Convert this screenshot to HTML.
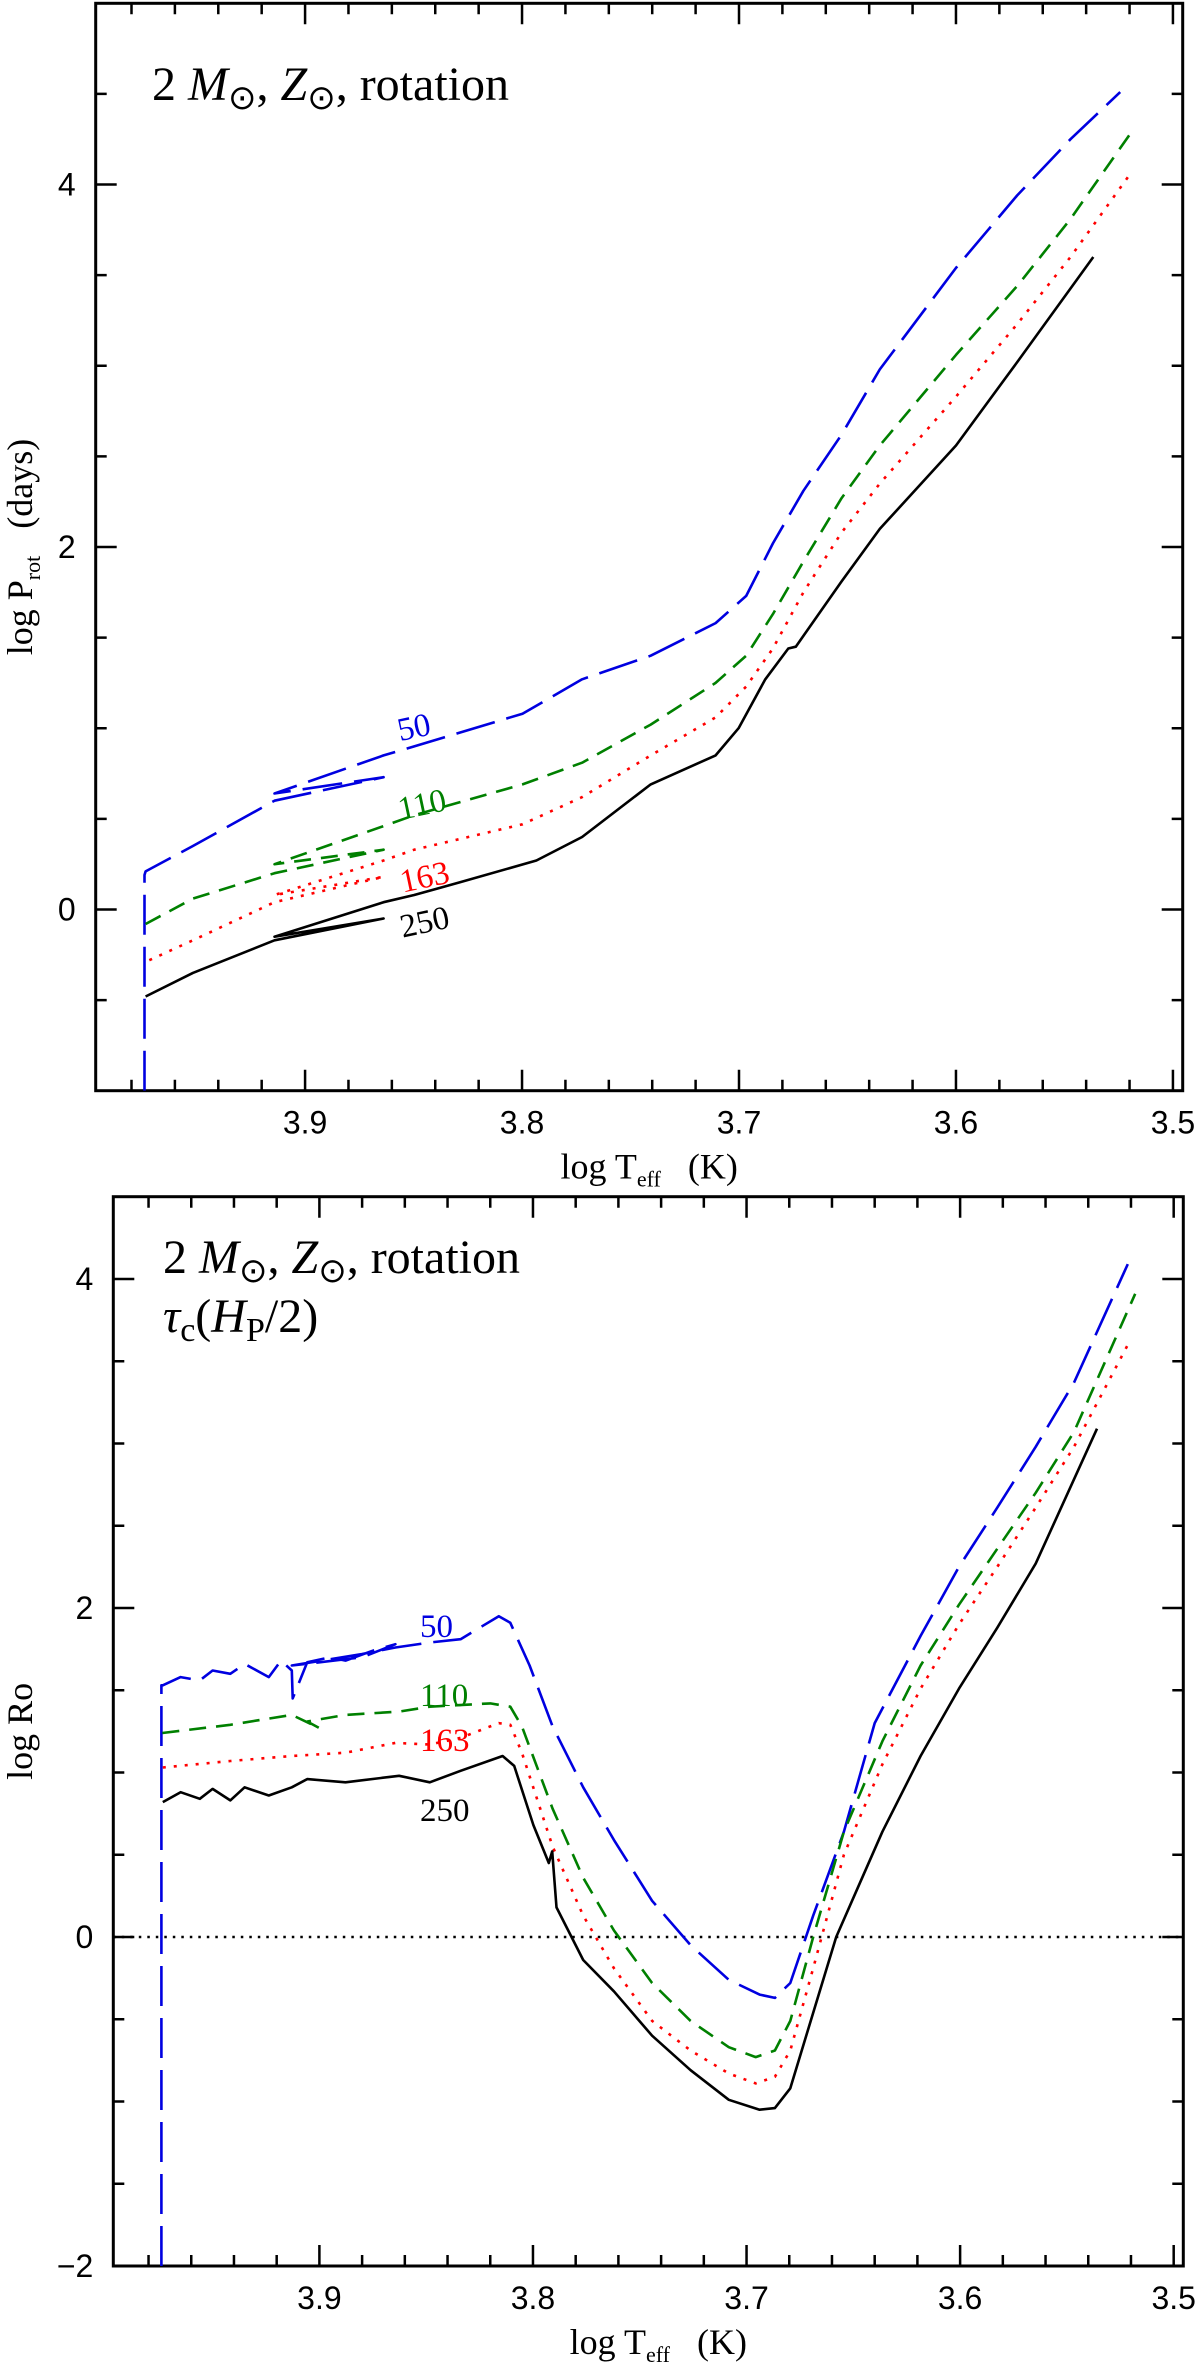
<!DOCTYPE html>
<html><head><meta charset="utf-8"><style>
html,body{margin:0;padding:0;background:#fff;}
svg{display:block;}
.tick{font-family:"Liberation Sans",sans-serif;font-size:32px;fill:#000;}
.ttl{font-family:"Liberation Serif",serif;font-size:36px;fill:#000;}
.ser{font-family:"Liberation Serif",serif;font-size:33px;}
.ann{font-family:"Liberation Serif",serif;font-size:48px;fill:#000;}
</style></head><body>
<svg id="fig" width="1200" height="2366" viewBox="0 0 1200 2366" xmlns="http://www.w3.org/2000/svg">
<g id="top"></g>
<g id="bot"></g>
<text class="ann" x="152" y="100">2 <tspan font-style="italic">M</tspan><tspan font-size="34" dy="9">⊙</tspan><tspan dy="-9">, </tspan><tspan font-style="italic">Z</tspan><tspan font-size="34" dy="9">⊙</tspan><tspan dy="-9">, rotation</tspan></text>
<text class="ann" x="163" y="1273">2 <tspan font-style="italic">M</tspan><tspan font-size="34" dy="9">⊙</tspan><tspan dy="-9">, </tspan><tspan font-style="italic">Z</tspan><tspan font-size="34" dy="9">⊙</tspan><tspan dy="-9">, rotation</tspan></text>
<text class="ann" x="163" y="1332"><tspan font-style="italic">τ</tspan><tspan font-size="34" dy="9">c</tspan><tspan dy="-9">(</tspan><tspan font-style="italic">H</tspan><tspan font-size="34" dy="9">P</tspan><tspan dy="-9">/2)</tspan></text>
<text class="ser" x="398" y="738" fill="#0000e0" transform="rotate(-12 414 730)">50</text>
<text class="ser" x="398" y="815" fill="#008000" transform="rotate(-12 423 805)">110</text>
<text class="ser" x="400" y="888" fill="#ff0000" transform="rotate(-12 423 878)">163</text>
<text class="ser" x="400" y="933" fill="#000" transform="rotate(-12 423 923)">250</text>
<text class="ser" x="420" y="1637" fill="#0000e0">50</text>
<text class="ser" x="420" y="1706" fill="#008000">110</text>
<text class="ser" x="420" y="1751" fill="#ff0000">163</text>
<text class="ser" x="420" y="1821" fill="#000">250</text>
</svg>
<script>
// ---- top panel data (log P_rot) ----
const topBlueX=[3.974,3.974,3.9735,3.9517,3.9141,3.8638,3.9141,3.8638,3.8497,3.7998,3.7723,3.7407,3.7108,3.6967,3.6844,3.6703,3.6527,3.6351,3.6,3.5718,3.5472,3.5243];
const topBlueY=[-1.0,0.19,0.21,0.35,0.60,0.73,0.64,0.85,0.90,1.08,1.27,1.40,1.58,1.73,2.02,2.31,2.62,2.98,3.54,3.94,4.25,4.51];
const topGreenX=[3.9735,3.9517,3.9141,3.8638,3.9141,3.8638,3.8497,3.7998,3.7723,3.7407,3.7108,3.6967,3.6844,3.6703,3.6527,3.6351,3.6,3.5718,3.5472,3.5191];
const topGreenY=[-0.08,0.06,0.20,0.33,0.25,0.46,0.52,0.69,0.81,1.02,1.25,1.40,1.63,1.92,2.27,2.56,3.06,3.44,3.81,4.29];
const topRedX=[3.9718,3.9517,3.9141,3.8638,3.9141,3.8638,3.8497,3.7998,3.7723,3.7407,3.7108,3.6967,3.6844,3.6703,3.6527,3.6351,3.6,3.5718,3.5472,3.5208];
const topRedY=[-0.28,-0.17,0.04,0.18,0.08,0.27,0.33,0.47,0.62,0.85,1.06,1.23,1.44,1.75,2.08,2.35,2.83,3.23,3.60,4.04];
const topBlackX=[3.9735,3.9517,3.9141,3.8638,3.9141,3.8638,3.8497,3.8286,3.7934,3.7723,3.7407,3.7108,3.7002,3.6879,3.6773,3.6738,3.6527,3.6351,3.6,3.5718,3.5367];
const topBlackY=[-0.48,-0.35,-0.17,-0.05,-0.15,0.04,0.08,0.15,0.27,0.40,0.69,0.85,1.0,1.27,1.44,1.45,1.81,2.10,2.56,3.02,3.60];
const topYTicks=["0","2","4"];
const xTickLabels=["3.9","3.8","3.7","3.6","3.5"];
// ---- bottom panel data (log Ro) ----
const botBlueX=[3.974,3.974,3.9733,3.965,3.956,3.95,3.9417,3.935,3.9237,3.918,3.9129,3.9125,3.9057,3.895,3.8878,3.875,3.8644,3.88,3.9129,3.88,3.8644,3.8483,3.8339,3.816,3.8106,3.8016,3.7908,3.7765,3.7621,3.7442,3.7262,3.7083,3.6939,3.6867,3.6795,3.6688,3.6544,3.64,3.6185,3.6005,3.5826,3.5646,3.5467,3.5215];
const botBlueY=[-2,1.53,1.53,1.58,1.56,1.62,1.60,1.66,1.58,1.68,1.62,1.45,1.67,1.70,1.68,1.74,1.78,1.70,1.65,1.72,1.76,1.79,1.81,1.95,1.91,1.65,1.28,0.91,0.59,0.22,-0.05,-0.26,-0.35,-0.37,-0.28,0.13,0.64,1.30,1.83,2.25,2.61,2.98,3.37,4.09];
const botGreenX=[3.9735,3.9417,3.9129,3.90,3.9057,3.8878,3.8627,3.8483,3.82,3.8106,3.8052,3.7908,3.7765,3.7621,3.7442,3.7262,3.7083,3.6957,3.6867,3.6795,3.6688,3.6544,3.6364,3.6185,3.6005,3.5826,3.5646,3.5467,3.518];
const botGreenY=[1.24,1.29,1.35,1.27,1.31,1.35,1.37,1.40,1.42,1.40,1.28,0.78,0.36,0.04,-0.28,-0.51,-0.67,-0.73,-0.69,-0.51,0.0,0.64,1.19,1.65,2.02,2.36,2.70,3.07,3.91];
const botRedX=[3.9733,3.9417,3.9129,3.8878,3.8644,3.8483,3.8339,3.816,3.8106,3.8052,3.7908,3.7765,3.7621,3.7442,3.7262,3.7083,3.6957,3.6867,3.6795,3.6688,3.6544,3.6364,3.6185,3.6005,3.5826,3.5646,3.5467,3.5215];
const botRedY=[1.03,1.07,1.10,1.12,1.18,1.17,1.21,1.30,1.29,1.12,0.55,0.13,-0.19,-0.51,-0.69,-0.83,-0.89,-0.85,-0.69,-0.19,0.50,1.05,1.51,1.90,2.25,2.61,2.98,3.60];
const botBlackX=[3.9733,3.965,3.956,3.95,3.9417,3.935,3.9237,3.9129,3.9057,3.8878,3.8627,3.8483,3.8339,3.8142,3.8088,3.7998,3.7926,3.791,3.789,3.7765,3.7621,3.7442,3.7262,3.7083,3.6939,3.6867,3.6795,3.6688,3.658,3.6472,3.6364,3.6185,3.6005,3.5826,3.5646,3.5359];
const botBlackY=[0.82,0.88,0.84,0.90,0.83,0.91,0.86,0.91,0.96,0.94,0.98,0.94,1.01,1.10,1.04,0.68,0.45,0.52,0.18,-0.14,-0.33,-0.60,-0.81,-0.99,-1.05,-1.04,-0.92,-0.46,0.0,0.32,0.64,1.10,1.51,1.88,2.27,3.09];
const botYTicks=["−2","0","2","4"];

const NS="http://www.w3.org/2000/svg";
function mk(parent,tag,attrs){const e=document.createElementNS(NS,tag);for(const k in attrs)e.setAttribute(k,attrs[k]);parent.appendChild(e);return e;}
function panel(g,L,R,T,B,ymin,ymax,yTickVals,yLabels,ytitle,series,prefix,zeroLine){
  const xmin=3.9965,xmax=3.4955;
  const sx=v=>L+(xmin-v)/(xmin-xmax)*(R-L);
  const sy=v=>B-(v-ymin)/(ymax-ymin)*(B-T);
  const ax=mk(g,'rect',{x:L,y:T,width:R-L,height:B-T,fill:'none',stroke:'#000','stroke-width':3});
  
  
  let d='';
  for(let i=0;i<=25;i++){const v=Math.round((3.98-0.02*i)*1000)/1000;if(v<xmax)break;const x=sx(v);const major=Math.abs(v*10-Math.round(v*10))<1e-6;const len=major?21:11;d+=`M${x},${B}v${-len}M${x},${T}v${len}`;}
  for(let v=Math.ceil(ymin*2)/2;v<=ymax+1e-9;v+=0.5){const y=sy(v);const major=Math.abs(v/2-Math.round(v/2))<1e-6;const len=major?21:11;d+=`M${L},${y}h${len}M${R},${y}h${-len}`;}
  const tk=mk(g,'path',{d:d,stroke:'#000','stroke-width':2.5,fill:'none'});
  
  
  xTickLabels.forEach(s=>{const t=mk(g,'text',{x:sx(parseFloat(s)),y:B+43,'text-anchor':'middle',class:'tick'});t.textContent=s;
    
    });
  yLabels.forEach((s,i)=>{const t=mk(g,'text',{x:L-20,y:sy(yTickVals[i])+11,'text-anchor':'end',class:'tick'});t.textContent=s;
    
    });
  const xt=mk(g,'text',{x:(L+R)/2+10,y:B+88,'text-anchor':'middle',class:'ttl'});
  xt.innerHTML='log T<tspan font-size="22" dy="8">eff</tspan><tspan dy="-8" xml:space="preserve">   (K)</tspan>';
  
  
  const yt=mk(g,'text',{x:0,y:0,'text-anchor':'middle',class:'ttl',transform:`translate(32,${(T+B)/2}) rotate(-90)`});
  yt.innerHTML=ytitle;
  
  
  if(zeroLine){const z=mk(g,'line',{x1:L,x2:R,y1:sy(0),y2:sy(0),stroke:'#000','stroke-width':2.5,'stroke-dasharray':'2.5 6'});
    
    }
  const clip=mk(g,'clipPath',{id:prefix+'clip'});mk(clip,'rect',{x:L,y:T,width:R-L,height:B-T});
  series.forEach(s=>{const pts=s.x.map((v,i)=>sx(v).toFixed(1)+','+sy(s.y[i]).toFixed(1)).join(' ');
    const p=mk(g,'polyline',{points:pts,fill:'none',stroke:s.c,'stroke-width':2.6,'stroke-dasharray':s.dash,'stroke-linejoin':'round','clip-path':`url(#${prefix}clip)`});
    
    });
}
const series=(bx,by,gx,gy,rx,ry,kx,ky)=>[
 {x:bx,y:by,c:'#0000e0',dash:'40 12',n:'series-50'},
 {x:gx,y:gy,c:'#008000',dash:'17 10',n:'series-110'},
 {x:rx,y:ry,c:'#ff0000',dash:'3 8',n:'series-163'},
 {x:kx,y:ky,c:'#000',dash:'none',n:'series-250'}];
panel(document.getElementById('top'),95.7,1182.7,3.3,1090.7,-1,5,[0,2,4],topYTicks,
 'log P<tspan font-size="22" dy="8">rot</tspan><tspan dy="-8" xml:space="preserve">   (days)</tspan>',
 series(topBlueX,topBlueY,topGreenX,topGreenY,topRedX,topRedY,topBlackX,topBlackY),'top',false);
panel(document.getElementById('bot'),113.3,1183.3,1196.7,2266,-2,4.5,[-2,0,2,4],botYTicks,'log Ro',
 series(botBlueX,botBlueY,botGreenX,botGreenY,botRedX,botRedY,botBlackX,botBlackY),'bottom',true);
</script>
</body></html>
